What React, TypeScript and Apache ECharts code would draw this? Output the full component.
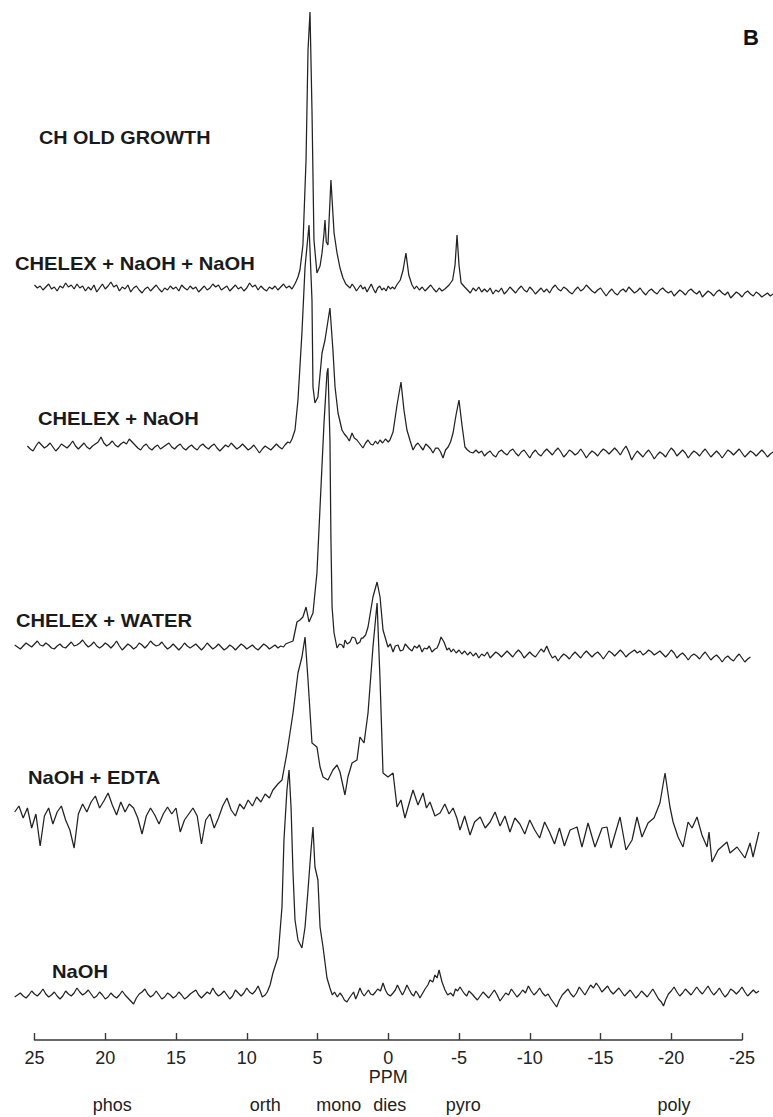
import React, { useEffect, useRef } from "react";
import * as echarts from "echarts";

// ---------- text content ----------
const sampleTitle = "CH OLD GROWTH";
const panelLetter = "B";
const traceNames = [
  "CHELEX + NaOH + NaOH",
  "CHELEX + NaOH",
  "CHELEX + WATER",
  "NaOH + EDTA",
  "NaOH",
];
const axisName = "PPM";
const regionLabels = ["phos", "orth", "mono", "dies", "pyro", "poly"];
const regionPpm = [19.5, 8.7, 3.5, -0.1, -5.3, -20.2];

// ---------- spectra: [ppm, relative intensity] ----------
const chelexNaohNaoh: [number, number][] = [
  [25.0, 5], [24.8, 2], [24.6, 4], [24.4, 0], [24.2, 3], [24.0, 6], [23.8, 1], [23.6, 3], [23.4, -1], [23.2, 4],
  [23.0, 2], [22.8, 7], [22.6, 3], [22.4, 5], [22.2, 1], [22.0, 6], [21.8, 2], [21.6, 4], [21.4, -1], [21.2, 3],
  [21.0, 0], [20.8, 5], [20.6, -2], [20.4, 2], [20.2, 6], [20.0, 1], [19.8, 4], [19.6, 8], [19.4, 3], [19.2, 5],
  [19.0, -1], [18.8, 3], [18.6, 1], [18.4, 5], [18.2, -2], [18.0, 2], [17.8, 4], [17.6, 0], [17.4, -3], [17.2, 1],
  [17.0, 3], [16.8, -1], [16.6, 2], [16.4, 5], [16.2, 1], [16.0, -2], [15.8, 2], [15.6, 0], [15.4, 4], [15.2, 1],
  [15.0, 3], [14.8, -1], [14.6, 5], [14.4, 2], [14.2, 0], [14.0, 4], [13.8, 1], [13.6, 3], [13.4, -2], [13.2, 1],
  [13.0, 4], [12.8, 0], [12.6, 2], [12.4, 6], [12.2, 3], [12.0, 5], [11.8, 0], [11.6, 2], [11.4, 4], [11.2, -1],
  [11.0, 2], [10.8, 5], [10.6, 1], [10.4, 3], [10.2, -1], [10.0, 2], [9.8, 7], [9.6, 3], [9.4, 5], [9.2, 0],
  [9.0, 4], [8.8, 1], [8.6, -1], [8.4, 3], [8.2, 1], [8.0, 4], [7.8, 0], [7.6, 3], [7.4, 6], [7.2, 2],
  [7.0, 4], [6.8, 1], [6.6, 6], [6.5, 9], [6.38, 13], [6.24, 20], [6.03, 45], [5.81, 130], [5.67, 240], [5.53, 278],
  [5.39, 180], [5.25, 50], [5.04, 17], [4.82, 24], [4.68, 37], [4.55, 55], [4.47, 70], [4.38, 48], [4.26, 45], [4.05, 110],
  [3.83, 57], [3.62, 37], [3.41, 22], [3.2, 12], [3.0, 6], [2.85, 4], [2.7, 2], [2.55, 6], [2.4, 3], [2.25, -1],
  [2.1, 2], [1.95, 5], [1.8, 1], [1.65, 3], [1.5, -2], [1.35, 2], [1.2, 6], [1.05, 1], [0.9, -3], [0.75, 2],
  [0.6, 4], [0.45, 0], [0.3, 2], [0.15, -1], [0.0, 4], [-0.15, 1], [-0.3, 3], [-0.45, 1], [-0.6, 5], [-0.85, 10],
  [-1.05, 20], [-1.25, 37], [-1.45, 15], [-1.68, 5], [-1.85, 1], [-2.0, 4], [-2.2, 0], [-2.4, 3], [-2.6, -1], [-2.8, 2],
  [-3.0, 5], [-3.2, 1], [-3.4, -2], [-3.6, 2], [-3.8, -1], [-4.0, 1], [-4.15, 3], [-4.3, 5], [-4.55, 10], [-4.72, 25],
  [-4.86, 55], [-5.0, 25], [-5.15, 7], [-5.4, 3], [-5.6, 0], [-5.8, -3], [-6.0, 2], [-6.2, -1], [-6.4, 3], [-6.6, -2],
  [-6.8, 1], [-7.0, -2], [-7.2, 2], [-7.4, -4], [-7.6, 0], [-7.8, -2], [-8.0, 2], [-8.2, -4], [-8.4, -1], [-8.6, 3],
  [-8.8, 0], [-9.0, -3], [-9.2, 1], [-9.4, 4], [-9.6, 0], [-9.8, -2], [-10.0, 3], [-10.2, 0], [-10.4, -4], [-10.6, -1],
  [-10.8, 2], [-11.0, -2], [-11.2, 1], [-11.4, -3], [-11.6, 2], [-11.8, 5], [-12.0, 1], [-12.2, -1], [-12.4, 3], [-12.6, 1],
  [-12.8, -2], [-13.0, -4], [-13.2, 0], [-13.4, 3], [-13.6, -1], [-13.8, 1], [-14.0, 5], [-14.2, 2], [-14.4, -1], [-14.6, -3],
  [-14.8, 0], [-15.0, 2], [-15.2, -2], [-15.4, -6], [-15.6, -2], [-15.8, 1], [-16.0, -3], [-16.2, -5], [-16.4, -1], [-16.6, 1],
  [-16.8, -2], [-17.0, 3], [-17.2, 0], [-17.4, -3], [-17.6, -1], [-17.8, 2], [-18.0, -2], [-18.2, -5], [-18.4, -1], [-18.6, 1],
  [-18.8, -2], [-19.0, -4], [-19.2, 0], [-19.4, 2], [-19.6, -1], [-19.8, -3], [-20.0, -1], [-20.2, -6], [-20.4, -3], [-20.6, 0],
  [-20.8, -2], [-21.0, -5], [-21.2, -1], [-21.4, 1], [-21.6, -2], [-21.8, -4], [-22.0, -1], [-22.2, -7], [-22.4, -4], [-22.6, -1],
  [-22.8, -3], [-23.0, -6], [-23.2, -2], [-23.4, 0], [-23.6, -3], [-23.8, -5], [-24.0, -2], [-24.2, -8], [-24.4, -5], [-24.6, -2],
  [-24.8, -4], [-25.0, -7], [-25.2, -3], [-25.4, -1], [-25.6, -4], [-25.8, -6], [-26.0, -2], [-26.2, -4], [-26.4, -7], [-26.6, -5],
  [-26.8, -3], [-27.0, -6], [-27.2, -4],
];

const chelexNaoh: [number, number][] = [
  [25.5, 1], [25.3, -2], [25.1, -4], [24.9, 1], [24.7, 5], [24.5, 2], [24.3, -1], [24.1, 1], [23.9, 4], [23.7, 0],
  [23.5, -4], [23.3, -1], [23.1, 3], [22.9, 1], [22.7, -1], [22.5, 2], [22.3, 6], [22.1, 1], [21.9, -2], [21.7, 1],
  [21.5, 4], [21.3, 0], [21.1, -2], [20.9, 1], [20.7, 3], [20.5, 5], [20.3, 10], [20.1, 4], [19.9, 1], [19.7, 3],
  [19.5, 6], [19.3, 2], [19.1, 0], [18.9, 3], [18.7, 5], [18.5, 3], [18.3, 8], [18.1, 5], [17.9, 2], [17.7, -1],
  [17.5, -3], [17.3, 1], [17.1, 3], [16.9, -1], [16.7, -3], [16.5, 0], [16.3, 2], [16.1, -2], [15.9, 0], [15.7, 2],
  [15.5, 4], [15.3, 0], [15.1, -2], [14.9, 1], [14.7, 3], [14.5, -1], [14.3, -3], [14.1, 0], [13.9, 2], [13.7, -1],
  [13.5, -3], [13.3, 1], [13.1, 3], [12.9, 0], [12.7, -2], [12.5, 1], [12.3, 3], [12.1, -1], [11.9, -4], [11.7, -1],
  [11.5, 2], [11.3, 0], [11.1, 4], [10.9, 1], [10.7, -2], [10.5, 0], [10.3, 3], [10.1, 0], [9.9, -3], [9.7, -1],
  [9.5, 2], [9.3, -2], [9.1, -6], [8.9, -2], [8.7, 1], [8.5, -1], [8.3, -3], [8.1, 0], [7.9, 3], [7.7, 0],
  [7.5, -2], [7.3, 2], [7.1, 5], [6.95, 4], [6.8, 8], [6.59, 17], [6.38, 47], [6.1, 114], [5.88, 180], [5.6, 222],
  [5.39, 147], [5.32, 60], [5.18, 44], [4.97, 50], [4.68, 94], [4.47, 107], [4.12, 139], [3.91, 97], [3.76, 60], [3.55, 34],
  [3.27, 17], [3.1, 13], [2.92, 10], [2.75, 6], [2.56, 14], [2.4, 9], [2.21, 7], [2.0, 3], [1.79, -1], [1.6, 4],
  [1.43, 7], [1.25, 3], [1.08, 2], [0.9, 6], [0.75, 3], [0.58, 7], [0.4, 4], [0.2, 8], [0.0, 5], [-0.12, 7],
  [-0.34, 15], [-0.62, 42], [-0.9, 65], [-1.11, 37], [-1.32, 17], [-1.55, 6], [-1.75, -3], [-1.95, 2], [-2.1, 4], [-2.3, 0],
  [-2.46, -3], [-2.65, 3], [-2.81, 1], [-3.0, -2], [-3.16, -6], [-3.35, -1], [-3.52, -1], [-3.7, -5], [-3.87, -11], [-4.05, -3],
  [-4.23, 0], [-4.4, 5], [-4.58, 14], [-4.79, 32], [-5.0, 47], [-5.21, 22], [-5.42, 0], [-5.6, -3], [-5.78, -5], [-5.99, -6],
  [-6.2, -3], [-6.4, -6], [-6.6, -4], [-6.8, -9], [-7.0, -6], [-7.2, -4], [-7.4, -8], [-7.6, -10], [-7.8, -5], [-8.0, -3],
  [-8.2, -6], [-8.4, -8], [-8.6, -4], [-8.8, -2], [-9.0, -6], [-9.2, -9], [-9.4, -5], [-9.6, -3], [-9.8, -7], [-10.0, -11],
  [-10.2, -6], [-10.4, -3], [-10.6, -7], [-10.8, -9], [-11.0, -5], [-11.2, -2], [-11.4, -5], [-11.6, -8], [-11.8, -4], [-12.0, -1],
  [-12.2, -5], [-12.4, -10], [-12.6, -7], [-12.8, -3], [-13.0, -5], [-13.2, -8], [-13.4, -6], [-13.6, -2], [-13.8, -6], [-14.0, -11],
  [-14.2, -7], [-14.4, -4], [-14.6, -6], [-14.8, -9], [-15.0, -5], [-15.2, -2], [-15.4, -4], [-15.6, -7], [-15.8, -4], [-16.0, -1],
  [-16.2, -4], [-16.4, -8], [-16.6, -3], [-16.8, 1], [-17.0, -5], [-17.2, -13], [-17.4, -8], [-17.6, -4], [-17.8, -7], [-18.0, -10],
  [-18.2, -6], [-18.4, -3], [-18.6, -7], [-18.8, -12], [-19.0, -8], [-19.2, -5], [-19.4, -7], [-19.6, -10], [-19.8, -5], [-20.0, -1],
  [-20.2, -4], [-20.4, -9], [-20.6, -6], [-20.8, -3], [-21.0, -6], [-21.2, -11], [-21.4, -7], [-21.6, -4], [-21.8, -6], [-22.0, -9],
  [-22.2, -5], [-22.4, -2], [-22.6, -6], [-22.8, -10], [-23.0, -7], [-23.2, -4], [-23.4, -7], [-23.6, -11], [-23.8, -7], [-24.0, -3],
  [-24.2, -5], [-24.4, -8], [-24.6, -5], [-24.8, -2], [-25.0, -6], [-25.2, -10], [-25.4, -7], [-25.6, -4], [-25.8, -6], [-26.0, -9],
  [-26.2, -6], [-26.4, -3], [-26.6, -6], [-26.8, -10], [-27.0, -7], [-27.2, -5],
];

const chelexWater: [number, number][] = [
  [26.4, 2], [26.2, 0], [26.0, -2], [25.8, 1], [25.6, 4], [25.4, 2], [25.2, 0], [25.0, 3], [24.8, 6], [24.6, 2],
  [24.4, 1], [24.2, 4], [24.0, 2], [23.8, -1], [23.6, -2], [23.4, 1], [23.2, 3], [23.0, 0], [22.8, -1], [22.6, 2],
  [22.4, 5], [22.2, 1], [22.0, 2], [21.8, 4], [21.6, 7], [21.4, 3], [21.2, 0], [21.0, 2], [20.8, 5], [20.6, 1],
  [20.4, -1], [20.2, 1], [20.0, 4], [19.8, 2], [19.6, -1], [19.4, 2], [19.2, 6], [19.0, 1], [18.8, -3], [18.6, 0],
  [18.4, 3], [18.2, 1], [18.0, -2], [17.8, 0], [17.6, 4], [17.4, 2], [17.2, -1], [17.0, 2], [16.8, 6], [16.6, 3],
  [16.4, 1], [16.2, 2], [16.0, 5], [15.8, 1], [15.6, -2], [15.4, 0], [15.2, 3], [15.0, 0], [14.8, -3], [14.6, 0],
  [14.4, 4], [14.2, 1], [14.0, -1], [13.8, 1], [13.6, 3], [13.4, 0], [13.2, -3], [13.0, 0], [12.8, 4], [12.6, 1],
  [12.4, -2], [12.2, 0], [12.0, 3], [11.8, 0], [11.6, -3], [11.4, -1], [11.2, 2], [11.0, 0], [10.8, -3], [10.6, 0],
  [10.4, 3], [10.2, 1], [10.0, -2], [9.8, 0], [9.6, 2], [9.4, -1], [9.2, -3], [9.0, 0], [8.8, 3], [8.6, 1],
  [8.4, -2], [8.2, 0], [8.0, 2], [7.8, -1], [7.6, 1], [7.4, 0], [7.25, 3], [7.09, 4], [6.73, 6], [6.45, 25],
  [6.24, 27], [6.03, 30], [5.81, 40], [5.6, 25], [5.32, 34], [5.04, 74], [4.82, 140], [4.54, 224], [4.33, 274], [4.26, 279],
  [4.12, 207], [4.05, 107], [3.97, 40], [3.83, 14], [3.62, -1], [3.45, 3], [3.27, 2], [3.15, -1], [3.06, 7], [2.9, 3],
  [2.7, 5], [2.55, 10], [2.35, 9], [2.2, 3], [2.0, 5], [1.9, 9], [1.79, 9], [1.6, 12], [1.43, 20], [1.08, 50],
  [0.79, 65], [0.58, 50], [0.37, 17], [0.02, 0], [-0.15, 3], [-0.34, -5], [-0.5, 1], [-0.69, 2], [-0.85, -4], [-1.04, -3],
  [-1.2, 3], [-1.32, 1], [-1.5, -2], [-1.68, -4], [-1.85, 1], [-2.03, -1], [-2.2, 2], [-2.39, -5], [-2.55, -1], [-2.74, -2],
  [-2.9, 1], [-3.09, -5], [-3.3, -2], [-3.45, -1], [-3.6, 4], [-3.73, 10], [-3.94, 5], [-4.15, -3], [-4.3, -1], [-4.45, -5],
  [-4.6, -2], [-4.8, -6], [-5.0, -3], [-5.2, -7], [-5.4, -4], [-5.6, -8], [-5.8, -5], [-6.0, -9], [-6.2, -6], [-6.4, -11],
  [-6.6, -7], [-6.8, -9], [-7.0, -5], [-7.2, -11], [-7.4, -8], [-7.6, -5], [-7.8, -7], [-8.0, -10], [-8.2, -7], [-8.4, -4],
  [-8.6, -7], [-8.8, -10], [-9.0, -6], [-9.2, -3], [-9.4, -6], [-9.6, -11], [-9.8, -8], [-10.0, -5], [-10.2, -8], [-10.4, -10],
  [-10.6, -6], [-10.8, -2], [-11.0, -5], [-11.2, 1], [-11.4, -6], [-11.6, -11], [-11.8, -9], [-12.0, -14], [-12.2, -10], [-12.4, -7],
  [-12.6, -9], [-12.8, -12], [-13.0, -8], [-13.2, -5], [-13.4, -8], [-13.6, -11], [-13.8, -7], [-14.0, -4], [-14.2, -7], [-14.4, -10],
  [-14.6, -7], [-14.8, -5], [-15.0, -8], [-15.2, -12], [-15.4, -8], [-15.6, -4], [-15.8, -6], [-16.0, -9], [-16.2, -6], [-16.4, -3],
  [-16.6, -6], [-16.8, -10], [-17.0, -7], [-17.2, -5], [-17.4, -3], [-17.6, -6], [-17.8, -4], [-18.0, -8], [-18.2, -6], [-18.4, -3],
  [-18.6, -5], [-18.8, -8], [-19.0, -6], [-19.2, -4], [-19.4, -7], [-19.6, -10], [-19.8, -7], [-20.0, -3], [-20.2, -6], [-20.4, -11],
  [-20.6, -8], [-20.8, -6], [-21.0, -9], [-21.2, -13], [-21.4, -9], [-21.6, -7], [-21.8, -9], [-22.0, -12], [-22.2, -8], [-22.4, -5],
  [-22.6, -9], [-22.8, -13], [-23.0, -10], [-23.2, -8], [-23.4, -11], [-23.6, -15], [-23.8, -11], [-24.0, -9], [-24.2, -12], [-24.4, -14],
  [-24.6, -10], [-24.8, -7], [-25.0, -11], [-25.2, -15], [-25.4, -12], [-25.6, -10],
];

const naohEdta: [number, number][] = [
  [26.4, -2], [26.1, 4], [25.8, -8], [25.5, 2], [25.2, -18], [24.9, -4], [24.6, -36], [24.3, -6], [24.0, 2], [23.7, -14],
  [23.4, -2], [23.1, 4], [22.8, -10], [22.5, -20], [22.2, -38], [21.9, -4], [21.6, 6], [21.3, -2], [21.0, 8], [20.7, 14],
  [20.4, 2], [20.1, 9], [19.8, 17], [19.5, 5], [19.2, -5], [18.9, 8], [18.6, -2], [18.3, 6], [18.0, 2], [17.7, -8],
  [17.4, -24], [17.1, -6], [16.8, 2], [16.5, -5], [16.2, -14], [15.9, -4], [15.6, 3], [15.3, -4], [15.0, 2], [14.7, -22],
  [14.4, -10], [14.1, -4], [13.8, 2], [13.5, -6], [13.2, -34], [12.9, -10], [12.6, -4], [12.3, -18], [12.0, -8], [11.7, 4],
  [11.4, 12], [11.1, 0], [10.8, -6], [10.5, 6], [10.2, 1], [9.9, 10], [9.6, 4], [9.3, 13], [9.0, 8], [8.7, 16],
  [8.4, 12], [8.15, 20], [7.8, 26], [7.51, 30], [7.16, 57], [6.73, 97], [6.38, 137], [6.1, 153], [5.88, 173], [5.67, 130],
  [5.39, 67], [5.04, 63], [4.82, 43], [4.61, 33], [4.26, 30], [3.91, 40], [3.62, 45], [3.41, 38], [3.06, 15], [2.85, 33],
  [2.56, 47], [2.21, 50], [2.0, 73], [1.71, 67], [1.43, 97], [1.08, 163], [0.79, 207], [0.58, 130], [0.37, 37], [0.02, 33],
  [-0.34, 37], [-0.62, 3], [-0.9, 10], [-1.18, -8], [-1.5, 8], [-1.75, 20], [-2.1, 5], [-2.46, 17], [-2.7, 2], [-2.95, 8],
  [-3.3, -6], [-3.66, -3], [-4.0, 6], [-4.3, -4], [-4.58, 2], [-4.85, -8], [-5.07, -20], [-5.4, -6], [-5.78, -25], [-6.1, -12],
  [-6.5, -7], [-6.85, -18], [-7.2, -12], [-7.55, -2], [-7.9, -16], [-8.25, -6], [-8.6, -22], [-8.95, -8], [-9.3, -14], [-9.65, -24],
  [-10.0, -10], [-10.35, -20], [-10.7, -28], [-11.05, -12], [-11.4, -22], [-11.75, -34], [-12.1, -18], [-12.45, -36], [-12.85, -20], [-13.34, -17],
  [-13.69, -37], [-14.12, -13], [-14.61, -37], [-15.11, -18], [-15.46, -17], [-15.74, -38], [-16.38, -7], [-16.8, -40], [-17.23, -30], [-17.58, -7],
  [-17.93, -27], [-18.36, -13], [-18.78, -8], [-19.2, 7], [-19.56, 37], [-19.91, 3], [-20.13, -12], [-20.48, -27], [-20.83, -37], [-21.19, -12],
  [-21.47, -18], [-21.82, -7], [-22.17, -25], [-22.53, -37], [-22.67, -22], [-22.88, -52], [-23.31, -40], [-23.94, -32], [-24.15, -43], [-24.65, -37],
  [-25.21, -48], [-25.57, -33], [-25.78, -47], [-26.2, -22],
];

const naoh: [number, number][] = [
  [26.4, 0], [26.2, 2], [26.0, 4], [25.8, 1], [25.6, -1], [25.4, 2], [25.2, 6], [25.0, 3], [24.8, 1], [24.6, 4],
  [24.4, 8], [24.2, 3], [24.0, 0], [23.8, 2], [23.6, 5], [23.4, 1], [23.2, -2], [23.0, 1], [22.8, 6], [22.6, 3],
  [22.4, 1], [22.2, 4], [22.0, 9], [21.8, 5], [21.6, 2], [21.4, 4], [21.2, 7], [21.0, 3], [20.8, -1], [20.6, 1],
  [20.4, 5], [20.2, 2], [20.0, -2], [19.8, 0], [19.6, 4], [19.4, 1], [19.2, -1], [19.0, 2], [18.8, 6], [18.6, 2],
  [18.4, -1], [18.2, -4], [18.0, -7], [17.8, -1], [17.6, 3], [17.4, 5], [17.2, 8], [17.0, 3], [16.8, 0], [16.6, 2],
  [16.4, 6], [16.2, 2], [16.0, -2], [15.8, 0], [15.6, 4], [15.4, 2], [15.2, -1], [15.0, 1], [14.8, 5], [14.6, 2],
  [14.4, -2], [14.2, 0], [14.0, 3], [13.8, 5], [13.6, 7], [13.4, 2], [13.2, -1], [13.0, 2], [12.8, 5], [12.6, 3],
  [12.4, 9], [12.2, 4], [12.0, 1], [11.8, 3], [11.6, 6], [11.4, 2], [11.2, -2], [11.0, 1], [10.8, 7], [10.6, 4],
  [10.4, 1], [10.2, 4], [10.0, 9], [9.8, 5], [9.6, 3], [9.4, 6], [9.2, 11], [9.05, 6], [8.9, 0], [8.7, 2],
  [8.55, 5], [8.35, 12], [8.15, 24], [7.79, 40], [7.51, 90], [7.37, 157], [7.16, 207], [7.01, 227], [6.87, 190], [6.73, 124],
  [6.59, 77], [6.38, 57], [6.1, 49], [5.88, 70], [5.67, 107], [5.46, 147], [5.32, 170], [5.18, 130], [4.97, 117], [4.82, 70],
  [4.61, 50], [4.33, 19], [4.12, 9], [3.95, 2], [3.8, 5], [3.6, 0], [3.41, 4], [3.25, 1], [3.1, -3], [2.92, -5],
  [2.75, -1], [2.6, 2], [2.45, 5], [2.3, -2], [2.15, 3], [2.0, 9], [1.85, 4], [1.7, 1], [1.55, 4], [1.4, 7],
  [1.25, 3], [1.08, 2], [0.9, 5], [0.75, 8], [0.55, 6], [0.37, 14], [0.2, 7], [0.05, 3], [-0.15, 1], [-0.34, 4],
  [-0.5, 7], [-0.65, 12], [-0.85, 6], [-1.0, 2], [-1.15, 6], [-1.32, 12], [-1.5, 7], [-1.65, 3], [-1.8, 1], [-1.95, 6],
  [-2.1, 3], [-2.24, -1], [-2.4, 3], [-2.6, 8], [-2.8, 12], [-2.95, 17], [-3.15, 15], [-3.3, 22], [-3.45, 19], [-3.59, 27],
  [-3.8, 15], [-4.01, 7], [-4.2, 2], [-4.4, 4], [-4.6, 1], [-4.75, 8], [-4.9, 6], [-5.07, 10], [-5.25, 6], [-5.4, 3],
  [-5.55, 1], [-5.7, 6], [-5.85, 4], [-5.99, 2], [-6.1, 0], [-6.3, -3], [-6.5, 1], [-6.7, 5], [-6.9, 2], [-7.1, -1],
  [-7.3, 3], [-7.5, 7], [-7.7, 2], [-7.9, -4], [-8.1, 0], [-8.3, 4], [-8.5, 2], [-8.7, 8], [-8.9, 4], [-9.1, 0],
  [-9.3, 3], [-9.5, 7], [-9.7, 4], [-9.9, 11], [-10.1, 6], [-10.3, 2], [-10.5, 5], [-10.7, 9], [-10.9, 4], [-11.1, 1],
  [-11.3, 3], [-11.5, -2], [-11.7, -6], [-11.9, -10], [-12.1, -3], [-12.3, 2], [-12.5, 5], [-12.7, 8], [-12.9, 3], [-13.1, 0],
  [-13.3, 4], [-13.5, 10], [-13.7, 6], [-13.9, 2], [-14.1, 7], [-14.3, 12], [-14.5, 9], [-14.7, 14], [-14.9, 10], [-15.1, 5],
  [-15.3, 8], [-15.5, 11], [-15.7, 6], [-15.9, 3], [-16.1, 6], [-16.3, 9], [-16.5, 5], [-16.7, 1], [-16.9, 4], [-17.1, 7],
  [-17.3, 3], [-17.5, -1], [-17.7, 2], [-17.9, 6], [-18.1, 3], [-18.3, 0], [-18.5, 4], [-18.7, 8], [-18.9, 3], [-19.1, -2],
  [-19.3, -5], [-19.45, -9], [-19.6, -3], [-19.8, 3], [-20.0, 6], [-20.2, 10], [-20.4, 5], [-20.6, 1], [-20.8, 4], [-21.0, 8],
  [-21.2, 5], [-21.4, 2], [-21.6, 6], [-21.8, 10], [-22.0, 6], [-22.2, 3], [-22.4, 7], [-22.6, 11], [-22.8, 6], [-23.0, 2],
  [-23.2, 5], [-23.4, 9], [-23.6, 4], [-23.8, 0], [-24.0, 3], [-24.2, 8], [-24.4, 6], [-24.6, 3], [-24.8, 6], [-25.0, 10],
  [-25.2, 5], [-25.4, 1], [-25.6, 4], [-25.8, 7], [-26.0, 4], [-26.2, 6],
];

const spectra = [chelexNaohNaoh, chelexNaoh, chelexWater, naohEdta, naoh];

// ---------- layout ----------
const W = 773;
const H = 1117;
const axisLeftPx = 34.5;
const axisRightPx = 742;
const axisLinePx = 1040;
const baselinePx = [290, 447, 647, 810, 997];
const labelPos = [
  { x: 15, y: 264 },
  { x: 38, y: 419 },
  { x: 16, y: 621 },
  { x: 28, y: 778 },
  { x: 52, y: 972 },
];
const titlePos = { x: 39, y: 138 };
const letterPos = { x: 751, y: 37 };
const FONT = '"Liberation Sans", Arial, Helvetica, sans-serif';
const INK = "#222222";

export default function App() {
  const ref = useRef<HTMLDivElement>(null);

  useEffect(() => {
    if (!ref.current) return;
    const chart = echarts.init(ref.current, undefined, { renderer: "svg" });
    const pxPerPpm = (axisRightPx - axisLeftPx) / 50;
    const xMaxData = 25 + axisLeftPx / pxPerPpm;
    const xMinData = -25 - (W - axisRightPx) / pxPerPpm;

    const lineSeries = spectra.map((s, i) => ({
      type: "line",
      name: traceNames[i],
      xAxisIndex: 0,
      yAxisIndex: 0,
      showSymbol: false,
      symbol: "none",
      smooth: false,
      silent: true,
      lineStyle: { color: INK, width: 1.25 },
      data: s.map((p) => [p[0], H - baselinePx[i] + p[1]]),
    }));

    const labelStyle = (text: string, x: number, y: number, size = 18, sx = 1.12) => ({
      type: "text",
      x,
      y,
      scaleX: sx,
      silent: true,
      style: {
        text,
        fill: "#1a1a1a",
        fontFamily: FONT,
        fontWeight: "bold",
        fontSize: size,
        align: "left",
        verticalAlign: "middle",
      },
    });

    chart.setOption({
      animation: false,
      backgroundColor: "#ffffff",
      grid: [
        { left: 0, top: 0, width: W, height: H },
        { left: axisLeftPx, top: axisLinePx - 1, width: axisRightPx - axisLeftPx, height: 1 },
      ],
      xAxis: [
        { gridIndex: 0, type: "value", inverse: true, min: xMinData, max: xMaxData, show: false },
        {
          gridIndex: 1,
          type: "value",
          inverse: true,
          min: -25,
          max: 25,
          interval: 5,
          position: "bottom",
          axisLine: { show: true, lineStyle: { color: "#3a3a3a", width: 1.6 } },
          axisTick: { show: true, inside: true, length: 7, lineStyle: { color: "#3a3a3a", width: 1.4 } },
          axisLabel: { margin: 9, fontSize: 18, color: "#222", fontFamily: FONT },
          splitLine: { show: false },
          name: axisName,
          nameLocation: "middle",
          nameGap: 27,
          nameTextStyle: { fontSize: 18, color: "#222", fontFamily: FONT },
        },
      ],
      yAxis: [
        { gridIndex: 0, type: "value", min: 0, max: H, show: false },
        { gridIndex: 1, type: "value", min: 0, max: 1, show: false },
      ],
      series: [
        ...lineSeries,
        {
          type: "scatter",
          xAxisIndex: 1,
          yAxisIndex: 1,
          symbol: "circle",
          symbolSize: 0,
          silent: true,
          itemStyle: { color: "#ffffff", opacity: 1 },
          data: regionLabels.map((n, i) => ({ name: n, value: [regionPpm[i], 0] })),
          label: {
            show: true,
            position: "inside",
            offset: [0, 65],
            formatter: (p: any) => p.name,
            fontSize: 18,
            color: "#222222",
            opacity: 1,
            fontFamily: FONT,
          },
        },
      ],
      graphic: [
        labelStyle(sampleTitle, titlePos.x, titlePos.y, 18, 1.1),
        ...traceNames.map((t, i) => labelStyle(t, labelPos[i].x, labelPos[i].y)),
        {
          type: "text",
          x: letterPos.x,
          y: letterPos.y,
          silent: true,
          style: {
            text: panelLetter,
            fill: "#111",
            fontFamily: FONT,
            fontWeight: "bold",
            fontSize: 22,
            align: "center",
            verticalAlign: "middle",
          },
        },
      ],
    });
    return () => chart.dispose();
  }, []);

  return (
    <div
      ref={ref}
      style={{ position: "absolute", left: 0, top: 0, width: W, height: H, background: "#fff" }}
    />
  );
}
